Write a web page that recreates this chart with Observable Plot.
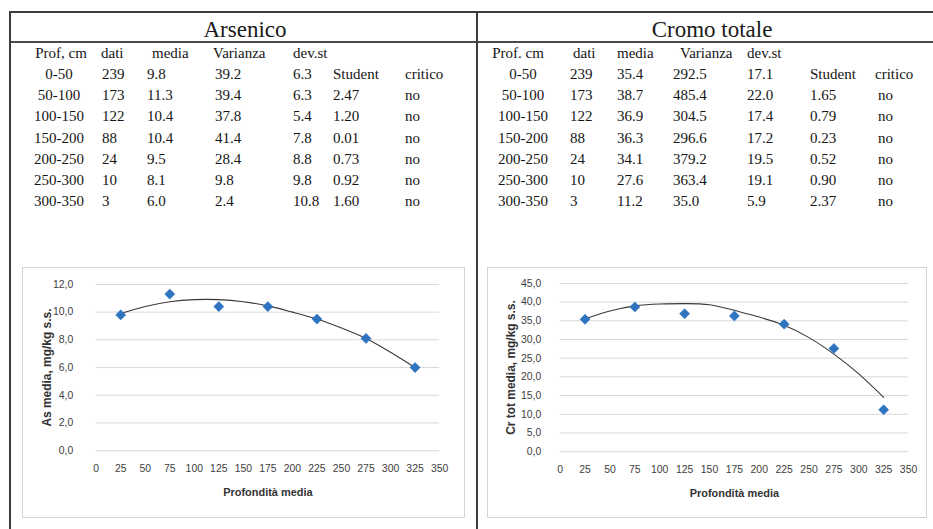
<!DOCTYPE html>
<html>
<head>
<meta charset="utf-8">
<script src="https://cdn.jsdelivr.net/npm/d3@7"></script>
<script src="https://cdn.jsdelivr.net/npm/@observablehq/plot@0.6"></script>
<style>
  html, body { margin: 0; padding: 0; background: #fff; }
  #page { position: relative; width: 933px; height: 529px; overflow: hidden; background: #fff; }
  .ln { position: absolute; background: #3c3c3c; }
  .title { position: absolute; font-family: "Liberation Serif", "Times New Roman", serif; font-size: 23px; line-height: 1; color: #1a1a1a; transform: translateX(-50%); white-space: nowrap; }
  .cell { position: absolute; font-family: "Liberation Serif", "Times New Roman", serif; font-size: 15px; line-height: 1; color: #151515; white-space: nowrap; transform: translateY(-50%); }
  .cell.mid { transform: translate(-50%, -50%); }
  .chartbox { position: absolute; border: 1px solid #d4d4d4; box-sizing: border-box; }
  .chartbox svg { position: absolute; left: 0; top: 0; }
</style>
</head>
<body>
<div id="page"></div>
<script>
// ---------------- data ----------------
const profCm = ["0-50", "50-100", "100-150", "150-200", "200-250", "250-300", "300-350"];
const profMedia = [25, 75, 125, 175, 225, 275, 325];
const dati = [239, 173, 122, 88, 24, 10, 3];
const critico = ["no", "no", "no", "no", "no", "no"];

const asMedia = [9.8, 11.3, 10.4, 10.4, 9.5, 8.1, 6.0];
const asVarianza = [39.2, 39.4, 37.8, 41.4, 28.4, 9.8, 2.4];
const asDevSt = [6.3, 6.3, 5.4, 7.8, 8.8, 9.8, 10.8];
const asStudent = [2.47, 1.20, 0.01, 0.73, 0.92, 1.60];

const crMedia = [35.4, 38.7, 36.9, 36.3, 34.1, 27.6, 11.2];
const crVarianza = [292.5, 485.4, 304.5, 296.6, 379.2, 363.4, 35.0];
const crDevSt = [17.1, 22.0, 17.4, 17.2, 19.5, 19.1, 5.9];
const crStudent = [1.65, 0.79, 0.23, 0.52, 0.90, 2.37];

// trend line values
const trendX = [25, 50, 75, 100, 125, 150, 175, 200, 225, 250, 275, 300, 325];
const asTrend = [9.9, 10.4, 10.75, 10.9, 10.9, 10.75, 10.45, 10.0, 9.5, 8.85, 8.1, 7.1, 6.0];
const crTrend = [35.5, 37.6, 39.0, 39.5, 39.6, 39.3, 37.8, 36.0, 33.8, 30.5, 26.1, 20.8, 14.5];

const xTicks = [0, 25, 50, 75, 100, 125, 150, 175, 200, 225, 250, 275, 300, 325, 350];
const asYTicks = [0, 2, 4, 6, 8, 10, 12];
const crYTicks = [0, 5, 10, 15, 20, 25, 30, 35, 40, 45];

const headers = ["dati", "media", "Varianza", "dev.st", "Student", "critico"];

// ---------------- layout ----------------
const page = document.getElementById("page");
function div(cls, style, text) {
  const d = document.createElement("div");
  d.className = cls;
  Object.assign(d.style, style);
  if (text != null) d.textContent = text;
  page.appendChild(d);
  return d;
}
// frame lines
div("ln", {left: "10px", top: "11px", width: "923px", height: "2px"});
div("ln", {left: "10px", top: "41px", width: "923px", height: "2px", background: "#4a4a4a"});
div("ln", {left: "9px", top: "11px", width: "2px", height: "518px"});
div("ln", {left: "476px", top: "11px", width: "2px", height: "518px"});

div("title", {left: "245px", top: "18px"}, "Arsenico");
div("title", {left: "712px", top: "18px"}, "Cromo totale");

const headY = 53;
const rowY = i => 74 + i * 21.2;
const f1 = v => v.toFixed(1);
const f2 = v => v.toFixed(2);

function buildTable(cfg, media, varianza, devst, student) {
  div("cell mid", {left: cfg.profH + "px", top: headY + "px"}, cfg.profLabel);
  div("cell", {left: cfg.datiH + "px", top: headY + "px"}, headers[0]);
  div("cell", {left: cfg.mediaH + "px", top: headY + "px"}, headers[1]);
  div("cell", {left: cfg.varH + "px", top: headY + "px"}, headers[2]);
  div("cell", {left: cfg.devH + "px", top: headY + "px"}, headers[3]);
  div("cell", {left: cfg.stud + "px", top: rowY(0) + "px"}, headers[4]);
  div("cell", {left: cfg.critH + "px", top: rowY(0) + "px"}, headers[5]);
  profCm.forEach((p, i) => {
    const y = rowY(i) + "px";
    div("cell mid", {left: cfg.prof + "px", top: y}, p);
    div("cell", {left: cfg.dati + "px", top: y}, String(dati[i]));
    div("cell", {left: cfg.media + "px", top: y}, f1(media[i]));
    div("cell", {left: cfg.vari + "px", top: y}, f1(varianza[i]));
    div("cell", {left: cfg.dev + "px", top: y}, f1(devst[i]));
    if (i > 0) {
      div("cell", {left: cfg.stud + "px", top: y}, f2(student[i - 1]));
      div("cell", {left: cfg.crit + "px", top: y}, critico[i - 1]);
    }
  });
}
buildTable({profLabel: "Prof, cm", profH: 61, prof: 59, datiH: 101, dati: 102, mediaH: 152, media: 147,
  varH: 213, vari: 215, devH: 293, dev: 293, stud: 333, critH: 405, crit: 405},
  asMedia, asVarianza, asDevSt, asStudent);
buildTable({profLabel: "Prof. cm", profH: 518, prof: 523, datiH: 573, dati: 570, mediaH: 617, media: 617,
  varH: 680, vari: 673, devH: 747, dev: 747, stud: 810, critH: 875, crit: 878},
  crMedia, crVarianza, crDevSt, crStudent);

// ---------------- charts ----------------
const comma = d => d.toFixed(1).replace(".", ",");
const font = "'Liberation Sans', Arial, sans-serif";

function chart(o) {
  const pts = profMedia.map((x, i) => ({x, y: o.media[i]}));
  const trend = trendX.map((x, i) => ({x, y: o.trend[i]}));
  return Plot.plot({
    width: o.width, height: 250,
    marginLeft: o.ml, marginRight: o.mr, marginTop: o.mt, marginBottom: o.mb,
    style: {fontFamily: font, background: "transparent", overflow: "visible"},
    x: {domain: [0, 350]},
    y: {domain: o.ydomain},
    marks: [
      Plot.gridY(o.yTicks, {stroke: "#d9d9d9", strokeOpacity: 1, strokeWidth: 1}),
      Plot.axisY(o.yTicks, {tickSize: 0, tickPadding: o.yPad, tickFormat: comma, fontSize: 10.5, fill: "#404040", label: null}),
      Plot.axisX(xTicks, {tickSize: 0, tickPadding: 14, fontSize: 10.5, fill: "#404040", label: null}),
      Plot.line(trend, {x: "x", y: "y", curve: "natural", stroke: "#3a3a3a", strokeWidth: 1.1}),
      Plot.dot(pts, {x: "x", y: "y", symbol: "diamond2", r: 4.6, fill: "#2f74c0", stroke: "#2f74c0", strokeWidth: 0.5}),
      Plot.text([o.ylabel], {frameAnchor: "left", text: d => d, rotate: -90, dx: -49, textAnchor: "middle", fontSize: 12, fontWeight: "bold", fill: "#333", lineAnchor: "middle"}),
      Plot.text(["Profondità media"], {frameAnchor: "bottom", text: d => d, dy: 42, textAnchor: "middle", fontSize: 11, fontWeight: "bold", fill: "#333", lineAnchor: "middle"})
    ]
  });
}

const box1 = div("chartbox", {left: "22px", top: "267px", width: "443px", height: "251px"});
box1.appendChild(chart({width: 443, ml: 73, mr: 25, mt: 16, mb: 67, ydomain: [0, 12], yTicks: asYTicks, yPad: 23,
  media: asMedia, trend: asTrend, ylabel: "As media, mg/kg s.s."}));

const box2 = div("chartbox", {left: "487px", top: "267px", width: "440px", height: "251px"});
box2.appendChild(chart({width: 440, ml: 72, mr: 18, mt: 15, mb: 66, ydomain: [0, 45], yTicks: crYTicks, yPad: 19,
  media: crMedia, trend: crTrend, ylabel: "Cr tot media, mg/kg s.s."}));
</script>
</body>
</html>
